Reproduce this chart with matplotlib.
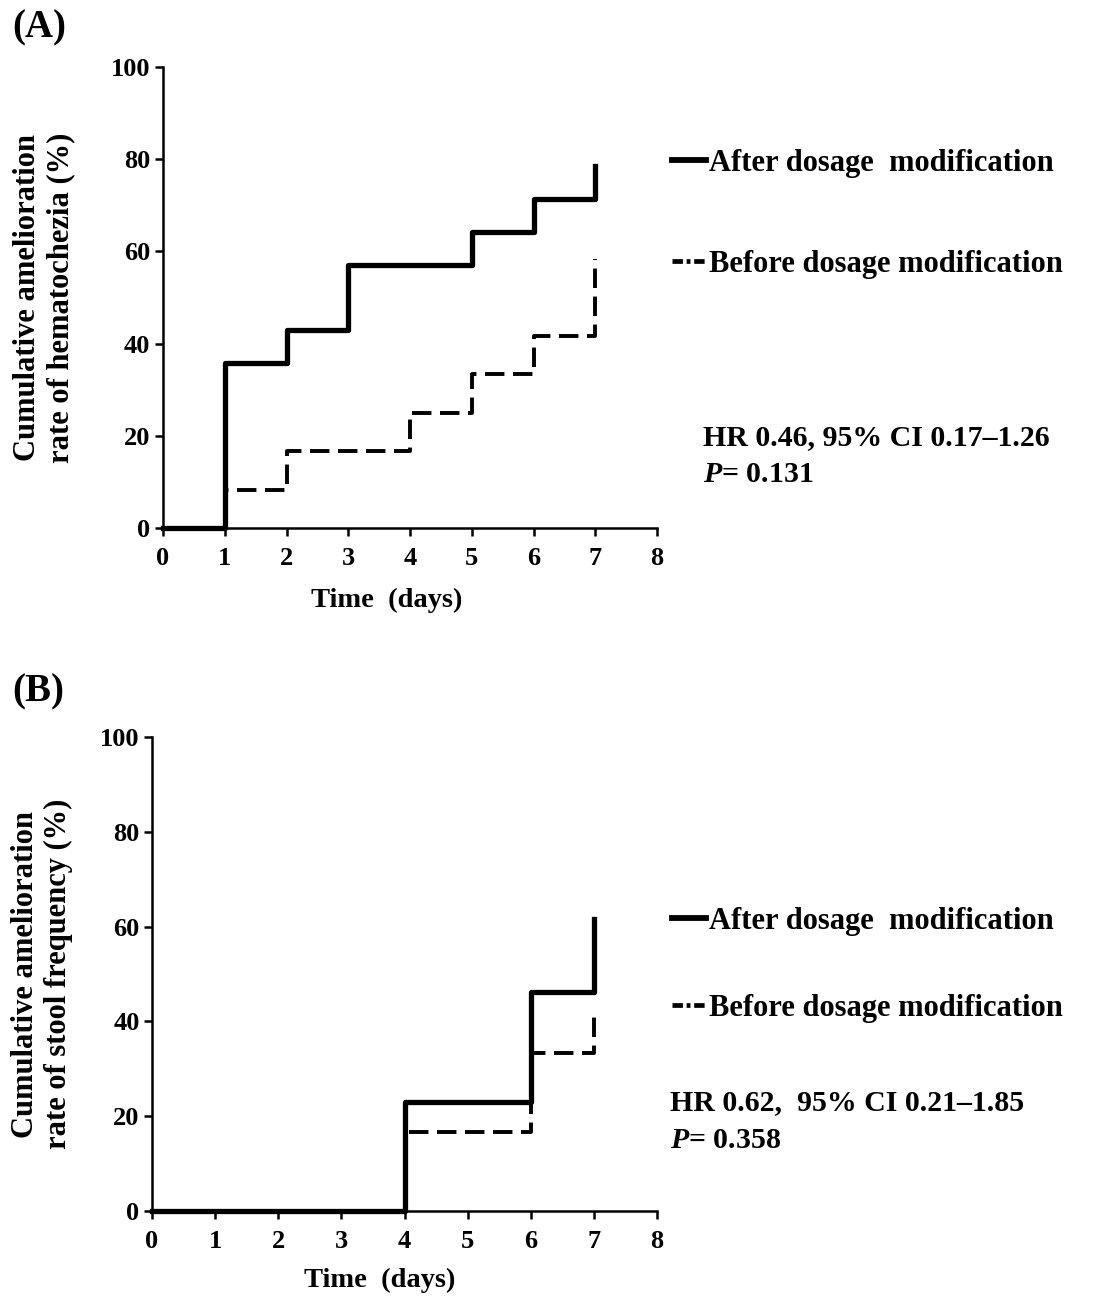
import matplotlib.pyplot as plt
from matplotlib.lines import Line2D

# panel A: hematochezia
a_after_t = [0, 1, 2, 3, 5, 6, 7]
a_after_v = [0, 35.7, 42.9, 57.1, 64.3, 71.4, 78.6]
a_before_t = [0, 1, 2, 4, 5, 6, 7]
a_before_v = [0, 8.3, 16.7, 25.0, 33.3, 41.7, 58.3]

# panel B: stool frequency
b_after_t = [0, 4, 6, 7]
b_after_v = [0, 23.1, 46.2, 61.5]
b_before_t = [0, 4, 6, 7]
b_before_v = [0, 16.7, 33.3, 41.7]

xticks = [0, 1, 2, 3, 4, 5, 6, 7, 8]
yticks = [0, 20, 40, 60, 80, 100]
labels = ['After dosage  modification', 'Before dosage modification']

plt.rcParams['font.family'] = ['Liberation Serif', 'DejaVu Serif']
plt.rcParams['font.weight'] = 'bold'
plt.rcParams['mathtext.fontset'] = 'custom'
plt.rcParams['mathtext.it'] = 'Liberation Serif:italic:bold'
plt.rcParams['mathtext.rm'] = 'Liberation Serif:bold'

W, H = 1093, 1298
fig = plt.figure(figsize=(W / 100, H / 100), dpi=100)


def px(x, y):
    return x / W, 1 - y / H


def panel(rect, t1, v1, t2, v2, ylab, stat_x, stat1, stat2, leg_y, stat_y,
          letter, letter_y, xlab_x, xlab_y, ylab_x, sp):
    ax = fig.add_axes(rect)
    ax.step(t1, v1, where='post', color='black', lw=3.8, clip_on=False, zorder=3)
    ax.step(t2, v2, where='post', color='black', lw=2.8, dashes=(5, 2.2), clip_on=False, zorder=2)
    ax.set_xlim(0, 8)
    ax.set_ylim(0, 100)
    ax.set_xticks(xticks)
    ax.set_yticks(yticks)
    for s in ['top', 'right']:
        ax.spines[s].set_visible(False)
    for s in ['left', 'bottom']:
        ax.spines[s].set_linewidth(1.8)
    ax.tick_params(width=1.8, length=6, labelsize=19)
    ax.tick_params(axis='x', pad=8)
    ax.tick_params(axis='y', pad=3)
    for lab in ax.get_xticklabels() + ax.get_yticklabels():
        lab.set_fontweight('bold')

    cy = (1 - (rect[1] + rect[3] / 2)) * H
    fig.text(*px(ylab_x, cy), ylab, rotation=90, ha='center', va='center', fontsize=22,
             fontweight='bold', linespacing=1.2)
    fig.text(*px(xlab_x, xlab_y), 'Time  (days)', ha='center', va='center',
             fontsize=20.5, fontweight='bold')
    fig.text(*px(12, letter_y), letter, ha='left', va='center', fontsize=28, fontweight='bold')

    handles = [Line2D([0], [0], color='black', lw=4.2),
               Line2D([0], [0], color='black', lw=3.4, dashes=(2.2, 0.8, 0.8, 0.8))]
    ax.legend(handles, labels, loc='upper left', bbox_to_anchor=px(672, leg_y),
              bbox_transform=fig.transFigure, frameon=False,
              handlelength=1.1, handletextpad=0.1, labelspacing=sp,
              borderpad=0, borderaxespad=0, prop={'weight': 'bold', 'size': 22})
    fig.text(*px(stat_x, stat_y), stat1, ha='left', va='center', fontsize=21.5, fontweight='bold')
    fig.text(*px(stat_x, stat_y + 37), stat2, ha='left', va='center', fontsize=21.5, fontweight='bold')
    return ax


rect_a = [163 / W, 1 - 528 / H, (657 - 163) / W, (528 - 67) / H]
rect_b = [152 / W, 1 - 1211 / H, (657 - 152) / W, (1211 - 737) / H]

panel(rect_a, a_after_t, a_after_v, a_before_t, a_before_v,
      'Cumulative amelioration\nrate of hematochezia (%)',
      703, 'HR 0.46, 95% CI 0.17\u20131.26', r'$\mathit{P}$= 0.131',
      149, 438, '(A)', 28, 387, 600, 44, 2.35)
panel(rect_b, b_after_t, b_after_v, b_before_t, b_before_v,
      'Cumulative amelioration\nrate of stool frequency (%)',
      670, 'HR 0.62,  95% CI 0.21\u20131.85', r'$\mathit{P}$= 0.358',
      907, 1103, '(B)', 692, 380, 1280, 42, 1.9)

fig.savefig('out.png', dpi=100)
